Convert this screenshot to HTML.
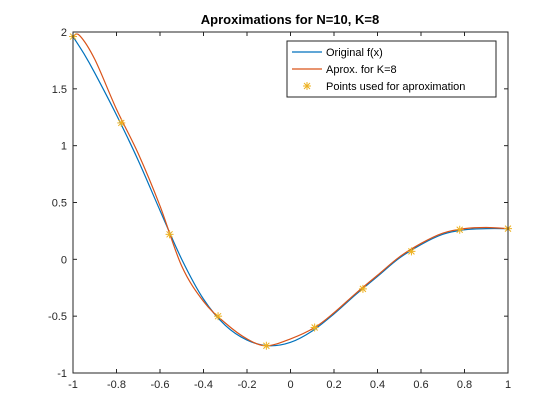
<!DOCTYPE html>
<html><head><meta charset="utf-8"><style>
body{margin:0;background:#fff;}
svg{display:block;font-family:"Liberation Sans",sans-serif;}
</style></head><body>
<svg id="c" width="560" height="420"></svg>
<script>
const origX=[-1,-0.95,-0.9,-0.8,-0.7,-0.6,-0.5,-0.4,-0.3,-0.2,-0.1,0,0.1,0.2,0.3,0.4,0.5,0.6,0.7,0.8,0.9,1];
const origY=[1.96,1.81,1.64,1.27,0.87,0.43,0.0,-0.35,-0.58,-0.71,-0.76,-0.73,-0.63,-0.48,-0.31,-0.15,0.01,0.13,0.22,0.26,0.27,0.27];
const apxX=[-1,-0.97,-0.9,-0.8,-0.7,-0.6,-0.5,-0.4,-0.3,-0.2,-0.111,0,0.111,0.2,0.3,0.4,0.5,0.6,0.7,0.8,0.9,1];
const apxY=[1.96,1.97,1.76,1.32,0.93,0.47,-0.06,-0.37,-0.56,-0.70,-0.76,-0.70,-0.60,-0.47,-0.30,-0.14,0.02,0.14,0.23,0.27,0.28,0.27];
const ptsX=[-1,-0.778,-0.556,-0.333,-0.111,0.111,0.333,0.556,0.778,1];
const ptsY=[1.96,1.2,0.22,-0.5,-0.76,-0.6,-0.26,0.07,0.26,0.27];
const xTicks=[-1,-0.8,-0.6,-0.4,-0.2,0,0.2,0.4,0.6,0.8,1];
const yTicks=[-1,-0.5,0,0.5,1,1.5,2];
const yTickLabels=["-1","-0.5","0","0.5","1","1.5","2"];
const L=73,R=508,T=32,B=373;
const sx=v=>L+(v+1)/2*(R-L);
const sy=v=>B-(v+1)/3*(B-T);
const svg=document.getElementById('c');
const NS='http://www.w3.org/2000/svg';
function mk(tag,attrs,parent){const e=document.createElementNS(NS,tag);for(const k in attrs)e.setAttribute(k,attrs[k]);(parent||svg).appendChild(e);return e;}
function smooth(xs,ys){
  const p=xs.map((x,i)=>[sx(x),sy(ys[i])]);
  let d='M'+p[0][0]+','+p[0][1];
  for(let i=0;i<p.length-1;i++){
    const p0=p[i-1]||p[i],p1=p[i],p2=p[i+1],p3=p[i+2]||p2;
    const c1=[p1[0]+(p2[0]-p0[0])/6,p1[1]+(p2[1]-p0[1])/6];
    const c2=[p2[0]-(p3[0]-p1[0])/6,p2[1]-(p3[1]-p1[1])/6];
    d+=' C'+c1+' '+c2+' '+p2;
  }
  return d;
}
const axes=mk('rect',{x:L,y:T,width:R-L,height:B-T,fill:'#fff',stroke:'none'});


const title=mk('text',{x:290,y:24,'text-anchor':'middle','font-size':13,'font-weight':'bold',fill:'#000'});
title.textContent='Aproximations for N=10, K=8';


xTicks.forEach((t,i)=>{
  const x=sx(t);
  mk('line',{x1:x,x2:x,y1:B,y2:B-4,stroke:'#262626'});
  mk('line',{x1:x,x2:x,y1:T,y2:T+4,stroke:'#262626'});
  const tx=mk('text',{x:x,y:B+15,'text-anchor':'middle','font-size':11,fill:'#262626'});
  tx.textContent=String(t);
  
  
});
yTicks.forEach((t,i)=>{
  const y=sy(t);
  mk('line',{x1:L,x2:L+4,y1:y,y2:y,stroke:'#262626'});
  mk('line',{x1:R,x2:R-4,y1:y,y2:y,stroke:'#262626'});
  const tx=mk('text',{x:L-6,y:y+4,'text-anchor':'end','font-size':11,fill:'#262626'});
  tx.textContent=yTickLabels[i];
  
  
});
const o=mk('path',{d:smooth(origX,origY),fill:'none',stroke:'#0072BD','stroke-width':1.2});


const a=mk('path',{d:smooth(apxX,apxY),fill:'none',stroke:'#D95319','stroke-width':1.2});


function star(cx,cy,g){
  mk('line',{x1:cx-4,x2:cx+4,y1:cy,y2:cy,stroke:'#EDB120'},g);
  mk('line',{x1:cx,x2:cx,y1:cy-4,y2:cy+4,stroke:'#EDB120'},g);
  mk('line',{x1:cx-3,x2:cx+3,y1:cy-3,y2:cy+3,stroke:'#EDB120'},g);
  mk('line',{x1:cx-3,x2:cx+3,y1:cy+3,y2:cy-3,stroke:'#EDB120'},g);
}
ptsX.forEach((x,i)=>{
  const g=mk('g',{});
  
  
  star(sx(x),sy(ptsY[i]),g);
});
mk('rect',{x:L,y:T,width:R-L,height:B-T,fill:'none',stroke:'#262626'});
const lg=mk('g',{});


mk('rect',{x:287,y:41,width:209,height:56,fill:'#fff',stroke:'#262626'},lg);
const items=[['Original f(x)','#0072BD'],['Aprox. for K=8','#D95319'],['Points used for aproximation','#EDB120']];
items.forEach((it,i)=>{
  const y=52+i*17;
  const g=mk('g',{},lg);
  
  
  if(i<2) mk('line',{x1:292,x2:322,y1:y,y2:y,stroke:it[1],'stroke-width':1.2},g);
  else star(307,y,g);
  const t=mk('text',{x:326,y:y+4,'font-size':11,fill:'#000'},g);
  t.textContent=it[0];
});
</script>
</body></html>
